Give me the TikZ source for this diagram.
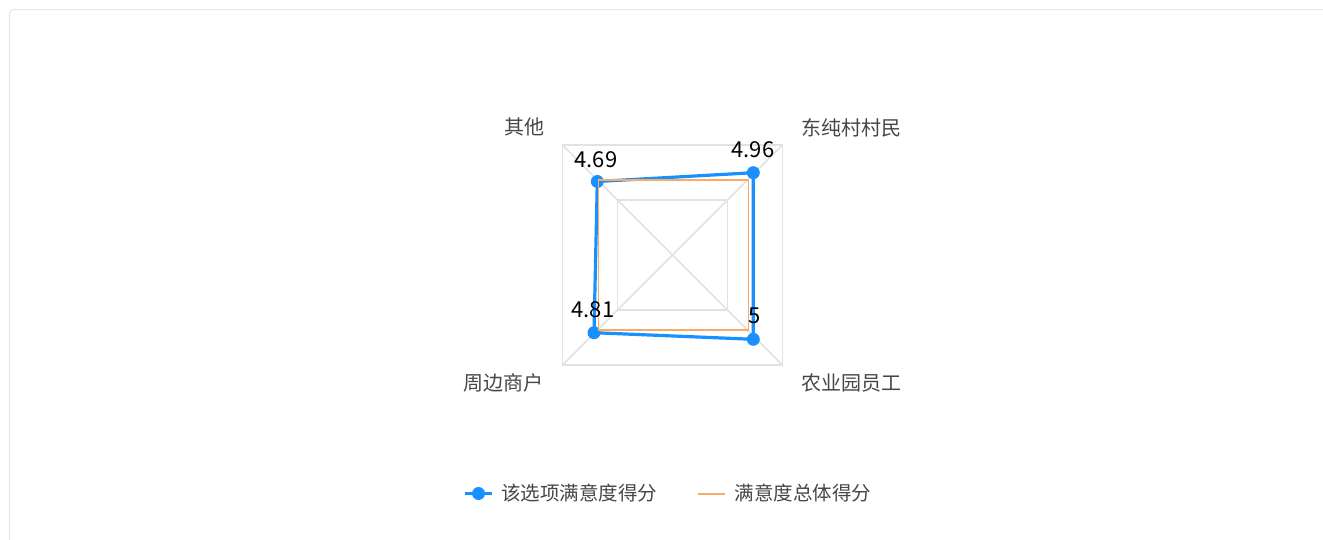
\documentclass[tikz,border=0pt]{standalone}
\usepackage{fontspec}
\setmainfont{Noto Sans CJK SC}
\definecolor{serblue}{RGB}{24,144,255}
\definecolor{serorange}{RGB}{250,170,100}
\definecolor{gridgray}{RGB}{226,226,226}
\definecolor{framegray}{RGB}{232,232,232}
\definecolor{labelgray}{RGB}{70,70,70}
\tikzset{
  gridline/.style={draw=gridgray, line width=1.5pt},
  blueline/.style={draw=serblue, line width=3.2pt, line join=round},
  orangeline/.style={draw=serorange, line width=1.6pt},
  bluedot/.style={circle, fill=serblue, inner sep=0pt, minimum size=13pt},
  axislabel/.style={font=\fontsize{20}{24}\selectfont, text=labelgray, inner sep=0pt},
  valuelabel/.style={font=\fontsize{22}{26}\selectfont, text=black, inner sep=0pt},
  legendtext/.style={font=\fontsize{19.5}{23}\selectfont, text=labelgray, inner sep=0pt, anchor=west},
}
\begin{document}
\begin{tikzpicture}[x=1pt,y=-1pt]
\useasboundingbox (0,0) rectangle (1323,540);
% frame
\draw[framegray, line width=1.2pt, rounded corners=4pt] (9.5,560) -- (9.5,9.5) -- (1340,9.5);
% grid
\coordinate (c) at (672.5,255);
\coordinate (g1) at (562.5,145);
\coordinate (g2) at (782.5,145);
\coordinate (g3) at (782.5,365);
\coordinate (g4) at (562.5,365);
\coordinate (h1) at (617.5,200);
\coordinate (h2) at (727.5,200);
\coordinate (h3) at (727.5,310);
\coordinate (h4) at (617.5,310);
\path[gridline] (g1) -- (g2) -- (g3) -- (g4) -- cycle;
\path[gridline] (h1) -- (h2) -- (h3) -- (h4) -- cycle;
\path[gridline] (c) -- (g1);
\path[gridline] (c) -- (g2);
\path[gridline] (c) -- (g3);
\path[gridline] (c) -- (g4);
% series points
\coordinate (p1) at (597.3,181.5);
\coordinate (p2) at (753.3,172.7);
\coordinate (p3) at (753.3,339.3);
\coordinate (p4) at (594,332.7);
\coordinate (o1) at (598.3,180);
\coordinate (o2) at (748.3,180);
\coordinate (o3) at (748.3,330);
\coordinate (o4) at (598.3,330);
\path[blueline] (p1) -- (p2) -- (p3) -- (p4) -- cycle;
\node[bluedot] (d1) at (p1) {};
\node[bluedot] (d2) at (p2) {};
\node[bluedot] (d3) at (p3) {};
\node[bluedot] (d4) at (p4) {};
\path[orangeline] (o1) -- (o2) -- (o3) -- (o4) -- cycle;
% value labels
\node[valuelabel] (v1) at (596,159.5) {4.69};
\node[valuelabel] (v2) at (753,150) {4.96};
\node[valuelabel] (v3) at (755,316) {5};
\node[valuelabel] (v4) at (593,309.5) {4.81};
% axis labels
\node[axislabel] (a1) at (524,127) {其他};
\node[axislabel] (a2) at (851,127.5) {东纯村村民};
\node[axislabel] (a3) at (851,383) {农业园员工};
\node[axislabel] (a4) at (503.5,382.5) {周边商户};
% legend
\coordinate (l1a) at (465,493.5);
\coordinate (l1b) at (492,493.5);
\path[blueline] (l1a) -- (l1b);
\node[bluedot] (l1d) at (478.5,493.5) {};
\node[legendtext] (l1t) at (501,493.5) {该选项满意度得分};
\coordinate (l2a) at (698,494);
\coordinate (l2b) at (725,494);
\path[orangeline] (l2a) -- (l2b);
\node[legendtext] (l2t) at (734.5,493.5) {满意度总体得分};
\end{tikzpicture}
\end{document}
